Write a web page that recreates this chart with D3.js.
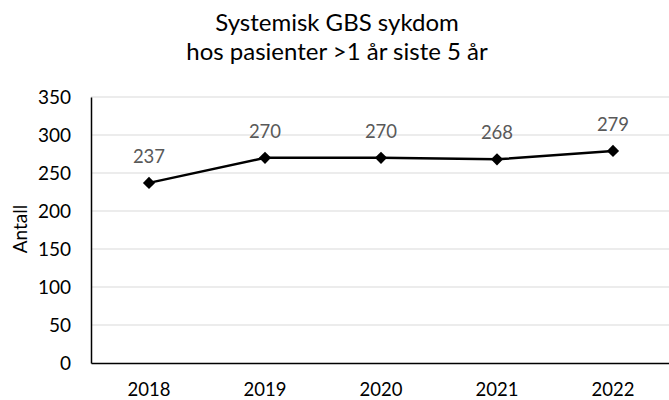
<!DOCTYPE html>
<html>
<head>
<meta charset="utf-8">
<script src="https://cdn.jsdelivr.net/npm/d3@7"></script>
<style>
  body { margin: 0; background: #fff; }
  text { font-family: Lato, "Open Sans", sans-serif; }
</style>
</head>
<body>
<div id="chart"></div>
<script>
let years = ["2018", "2019", "2020", "2021", "2022"];
let counts = [237, 270, 270, 268, 279];
let yTicks = [0, 50, 100, 150, 200, 250, 300, 350];

let W = 669, H = 400;
let margin = { top: 97, right: -2, bottom: 37, left: 91 };
let width = W - margin.left - margin.right,
    height = H - margin.top - margin.bottom;

let svg = d3.select("#chart").append("svg")
    .attr("width", W)
    .attr("height", H);

let g = svg.append("g")
    .attr("transform", "translate(" + margin.left + "," + margin.top + ")");

let x = d3.scaleBand().domain(years).range([0, width]);
let y = d3.scaleLinear().domain([0, 350]).range([height, 0]);

// gridlines
g.selectAll(".grid")
    .data(yTicks.filter(d => d > 0))
    .enter()
    .append("line")
    .attr("x1", 0)
    .attr("x2", width)
    .attr("y1", d => y(d))
    .attr("y2", d => y(d))
    .attr("stroke", "#d9d9d9")
    .attr("stroke-width", 1);

// y axis
let yAxis = g.append("g")
    .call(d3.axisLeft(y).tickValues(yTicks).tickSize(0).tickPadding(20));
yAxis.select(".domain").attr("stroke", "#000").attr("stroke-width", 1.5);
yAxis.selectAll("text").attr("font-size", 19).attr("fill", "#000")
    .style("font-family", "Lato, 'Open Sans', sans-serif");

// x axis
let xAxis = g.append("g")
    .attr("transform", "translate(0," + height + ")")
    .call(d3.axisBottom(x).tickSize(0).tickPadding(20));
xAxis.select(".domain").attr("stroke", "#000").attr("stroke-width", 1.5);
xAxis.selectAll("text").attr("font-size", 18.5).attr("fill", "#000")
    .style("font-family", "Lato, 'Open Sans', sans-serif");

// line
let cx = d => x(d) + x.bandwidth() / 2;
let line = d3.line()
    .x((d, i) => cx(years[i]))
    .y(d => y(d));

g.append("path")
    .datum(counts)
    .attr("d", line)
    .attr("fill", "none")
    .attr("stroke", "#000")
    .attr("stroke-width", 2.5);

// diamond markers
g.selectAll(".pt")
    .data(counts)
    .enter()
    .append("path")
    .attr("d", d3.symbol().type(d3.symbolDiamond2).size(95))
    .attr("transform", (d, i) => "translate(" + cx(years[i]) + "," + y(d) + ")")
    .attr("fill", "#000");

// data labels
g.selectAll(".lbl")
    .data(counts)
    .enter()
    .append("text")
    .attr("x", (d, i) => cx(years[i]))
    .attr("y", d => y(d) - 20)
    .attr("text-anchor", "middle")
    .attr("font-size", 18.5)
    .attr("fill", "#595959")
    .text(d => d);

// y axis label
svg.append("text")
    .attr("transform", "translate(27,229) rotate(-90)")
    .attr("text-anchor", "middle")
    .attr("font-size", 19)
    .attr("fill", "#000")
    .text("Antall");

// title
svg.append("text")
    .attr("x", 337)
    .attr("y", 31)
    .attr("text-anchor", "middle")
    .attr("font-size", 24)
    .attr("fill", "#000")
    .text("Systemisk GBS sykdom");
svg.append("text")
    .attr("x", 337)
    .attr("y", 60)
    .attr("text-anchor", "middle")
    .attr("font-size", 24)
    .attr("fill", "#000")
    .text("hos pasienter >1 år siste 5 år");
</script>
</body>
</html>
